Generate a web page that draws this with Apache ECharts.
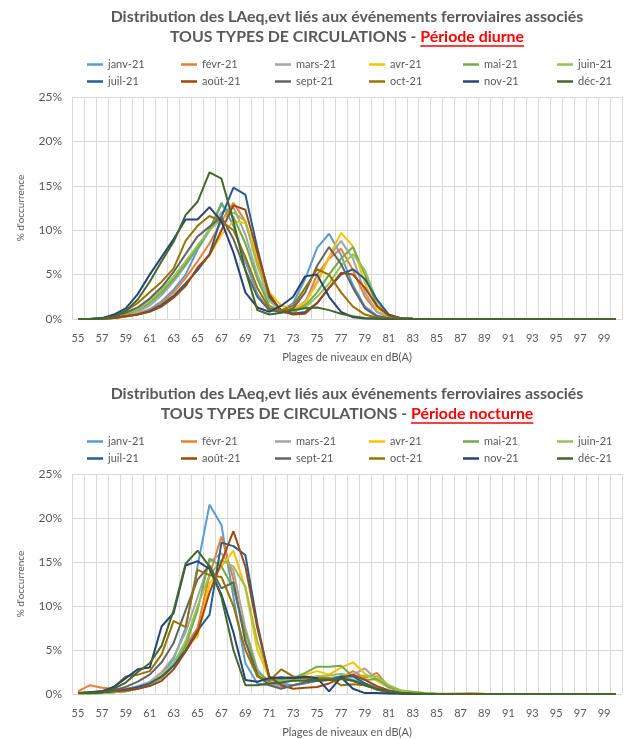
<!DOCTYPE html>
<html><head><meta charset="utf-8">
<script src="https://cdn.jsdelivr.net/npm/echarts@6/dist/echarts.min.js"></script>
<style>html,body{margin:0;padding:0;background:#fff}#c{width:625px;height:739px}</style>
</head><body><div id="c"></div>
<script>
// ---------- DATA ----------
const categories = ['55','56','57','58','59','60','61','62','63','64','65','66','67','68','69','70','71','72','73','74','75','76','77','78','79','80','81','82','83','84','85','86','87','88','89','90','91','92','93','94','95','96','97','98','99','100'];
const monthNames = ['janv-21','févr-21','mars-21','avr-21','mai-21','juin-21','juil-21','août-21','sept-21','oct-21','nov-21','déc-21'];
const titleLine1 = 'Distribution des LAeq,evt liés aux événements ferroviaires associés';
const titlePrefix = 'TOUS TYPES DE CIRCULATIONS - ';
const periodNames = ['Période diurne', 'Période nocturne'];
const xAxisName = 'Plages de niveaux en dB(A)';
const yAxisName = "% d'occurrence";

// Période diurne (% d'occurrence)
const dJanv = [0,0,0.02,0.1,0.3,0.6,1.1,2.0,3.3,5.0,7.8,10.0,13.1,10.5,6.5,2.8,1.0,0.9,1.8,4.5,8.0,9.6,7.2,3.8,1.4,0.4,0.1,0.04,0.02,0.01,0.01,0.01,0,0,0,0,0,0,0,0,0,0,0,0,0,0];
const dFevr = [0,0,0.02,0.1,0.3,0.6,1.0,1.8,3.0,4.6,6.5,8.5,11.0,13.1,11.0,6.5,2.5,0.8,0.6,1.8,5.0,6.8,7.9,5.5,2.5,0.8,0.2,0.05,0.02,0.01,0,0,0,0,0,0,0,0,0,0,0,0,0,0,0,0];
const dMars = [0,0,0.02,0.15,0.4,0.8,1.5,2.7,4.2,6.0,8.0,10.2,12.0,12.6,9.5,5.0,2.0,1.0,1.0,2.0,4.2,7.0,8.8,6.8,3.0,0.8,0.2,0.05,0.02,0.01,0,0,0,0,0,0,0,0,0,0,0,0,0,0,0,0];
const dAvr  = [0,0,0.02,0.1,0.25,0.5,0.9,1.6,2.6,4.0,5.5,7.2,9.5,11.0,10.8,7.0,3.0,1.5,1.2,1.8,4.0,7.0,9.7,8.2,4.0,1.2,0.3,0.06,0.02,0.01,0,0,0,0,0,0,0,0,0,0,0,0,0,0,0,0];
const dMai  = [0,0,0.05,0.2,0.5,1.0,1.8,3.0,4.5,6.2,8.0,10.0,12.9,11.5,8.5,4.5,1.5,0.9,0.8,1.5,3.0,5.0,6.8,8.1,5.0,1.5,0.3,0.06,0.02,0.01,0,0,0,0,0,0,0,0,0,0,0,0,0,0,0,0];
const dJuin = [0,0,0.05,0.25,0.6,1.1,2.0,3.3,4.8,6.5,8.3,10.0,11.3,12.0,11.0,6.0,2.2,1.0,0.9,1.3,2.5,4.0,6.0,7.3,5.5,2.0,0.4,0.08,0.03,0.01,0,0,0,0,0,0,0,0,0,0,0,0,0,0,0,0];
const dJuil = [0,0,0.02,0.1,0.3,0.5,0.9,1.6,2.6,4.0,5.5,7.3,11.5,14.8,14.0,8.0,2.5,1.0,0.6,0.8,1.8,3.5,5.0,5.6,4.5,2.2,0.5,0.1,0.03,0.01,0,0,0,0,0,0,0,0,0,0,0,0,0,0,0,0];
const dAout = [0,0,0.02,0.1,0.3,0.5,0.8,1.4,2.4,3.7,5.8,7.2,10.0,12.8,12.3,7.5,2.8,0.9,0.5,0.6,1.8,3.5,5.2,5.0,3.5,1.5,0.4,0.08,0.02,0.01,0,0,0,0,0,0,0,0,0,0,0,0,0,0,0,0];
const dSept = [0,0,0.05,0.25,0.7,1.3,2.3,3.6,5.3,7.3,9.3,10.4,11.5,9.0,5.5,2.5,1.0,0.8,1.2,3.0,6.0,8.1,6.2,3.5,1.2,0.3,0.08,0.02,0.01,0,0,0,0,0,0,0,0,0,0,0,0,0,0,0,0,0];
const dOct  = [0,0,0.05,0.3,0.9,1.8,3.0,4.2,5.7,8.8,10.5,11.6,11.0,10.0,7.0,3.5,1.2,1.0,1.5,3.5,5.6,5.0,3.0,1.4,0.5,0.15,0.05,0.02,0.01,0,0,0,0,0,0,0,0,0,0,0,0,0,0,0,0,0];
const dNov  = [0,0,0.1,0.5,1.2,2.8,5.0,7.0,9.0,11.2,11.2,12.6,11.0,7.5,3.0,1.3,0.8,1.5,2.5,4.8,5.0,2.5,0.8,0.2,0.05,0.02,0.01,0,0,0,0,0,0,0,0,0,0,0,0,0,0,0,0,0,0,0];
const dDec  = [0,0,0.05,0.3,0.9,2.2,4.2,6.5,8.7,11.7,13.2,16.5,15.8,11.0,5.5,1.0,0.5,0.7,1.0,1.2,1.3,1.0,0.6,0.3,0.12,0.05,0.02,0.01,0,0,0,0,0,0,0,0,0,0,0,0,0,0,0,0,0,0];

// Période nocturne (% d'occurrence)
const nJanv = [0.1,0.1,0.1,0.2,0.3,0.6,1.2,2.2,4.0,7.5,14.5,21.5,19.2,11.0,3.5,1.2,1.0,1.2,1.0,1.2,1.5,1.8,2.0,1.6,1.2,0.8,0.4,0.2,0.1,0.05,0,0,0,0,0,0,0,0,0,0,0,0,0,0,0,0];
const nFevr = [0.3,1.0,0.7,0.6,0.6,0.8,1.2,2.0,3.5,5.5,7.5,13.5,17.9,13.0,6.0,2.0,1.2,1.5,1.6,1.8,2.0,1.8,1.8,2.6,1.8,2.4,0.8,0.3,0.1,0.05,0.02,0.02,0.05,0.08,0.02,0,0,0,0,0,0,0,0,0,0,0];
const nMars = [0.1,0.1,0.15,0.3,0.5,0.9,1.4,2.5,4.2,7.0,11.0,15.0,16.0,14.0,7.5,2.8,1.2,0.8,1.0,1.3,1.6,1.8,2.0,2.2,2.9,1.6,0.7,0.3,0.1,0.05,0,0,0,0,0,0,0,0,0,0,0,0,0,0,0,0];
const nAvr  = [0.05,0.05,0.1,0.2,0.4,0.7,1.2,2.2,3.5,5.5,6.5,12.5,14.5,16.3,12.0,5.0,1.8,1.5,1.8,2.2,2.6,2.2,3.0,3.6,2.3,1.5,0.8,0.4,0.2,0.1,0,0,0,0,0,0,0,0,0,0,0,0,0,0,0,0];
const nMai  = [0.05,0.05,0.1,0.2,0.3,0.6,1.0,1.8,3.2,5.5,9.5,15.4,14.5,12.0,7.0,2.5,1.5,1.6,1.8,2.4,3.1,3.1,3.2,2.0,1.6,1.7,0.8,0.4,0.25,0.1,0.02,0.01,0,0,0,0,0,0,0,0,0,0,0,0,0,0];
const nJuin = [0.05,0.05,0.1,0.2,0.4,0.7,1.1,2.0,3.5,6.0,10.0,13.5,15.2,14.5,12.2,6.0,2.0,1.5,1.6,1.8,2.0,2.1,2.3,2.0,2.1,2.0,1.0,0.4,0.2,0.1,0.02,0.01,0,0,0,0,0,0,0,0,0,0,0,0,0,0];
const nJuil = [0.1,0.1,0.2,0.3,0.5,0.8,1.2,2.0,3.2,5.0,7.2,9.0,17.2,16.8,15.8,8.0,1.8,1.8,1.9,1.8,1.5,1.6,2.0,2.0,1.2,0.5,0.2,0.08,0.03,0.01,0,0,0,0,0,0,0,0,0,0,0,0,0,0,0,0];
const nAout = [0.1,0.1,0.2,0.3,0.4,0.6,0.9,1.5,2.8,4.8,7.0,11.5,15.0,18.5,14.5,7.5,2.0,1.0,0.6,0.7,0.8,1.2,1.8,2.2,1.6,0.9,0.4,0.15,0.05,0.02,0,0,0,0,0,0,0,0,0,0,0,0,0,0,0,0];
const nSept = [0.1,0.1,0.2,0.4,0.8,1.4,2.2,3.6,5.8,9.5,13.0,14.6,12.0,12.7,6.0,2.2,1.0,0.6,1.0,1.3,1.5,1.6,1.8,1.5,1.0,0.5,0.2,0.08,0.03,0.01,0,0,0,0,0,0,0,0,0,0,0,0,0,0,0,0];
const nOct  = [0.1,0.2,0.3,0.8,2.0,2.2,2.6,4.5,8.3,7.6,14.1,13.5,13.3,10.0,5.0,2.0,1.5,2.8,2.0,1.8,1.8,1.8,1.0,1.1,1.0,0.6,0.3,0.1,0.05,0.02,0,0,0,0,0,0,0,0,0,0,0,0,0,0,0,0];
const nNov  = [0.1,0.2,0.3,0.8,1.8,2.8,3.0,7.7,9.2,14.6,15.1,14.2,11.3,7.0,1.6,1.4,1.8,1.9,1.8,2.0,1.8,0.3,1.9,0.6,0.1,0.1,0.05,0.02,0.01,0,0,0,0,0,0,0,0,0,0,0,0,0,0,0,0,0];
const nDec  = [0.1,0.1,0.2,0.6,1.3,2.5,3.5,5.5,9.5,14.8,16.3,14.5,11.0,5.0,1.0,1.0,1.2,1.3,1.5,1.5,1.6,1.6,1.7,1.5,1.0,0.6,0.3,0.1,0.05,0.02,0,0,0,0,0,0,0,0,0,0,0,0,0,0,0,0];

const diurneData = [dJanv,dFevr,dMars,dAvr,dMai,dJuin,dJuil,dAout,dSept,dOct,dNov,dDec];
const nocturneData = [nJanv,nFevr,nMars,nAvr,nMai,nJuin,nJuil,nAout,nSept,nOct,nNov,nDec];
const yTicks = [0,5,10,15,20,25];

// ---------- STYLE ----------
const monthColors = ['#5B9BD5','#ED7D31','#A5A5A5','#FFC000','#70AD47','#92C353','#255E91','#9E480E','#636363','#997300','#264478','#43682B'];
const FONT = 'Lato, "Open Sans", sans-serif';
const GREY = '#595959';
const GRID = '#D9D9D9';

const ctx = document.createElement('canvas').getContext('2d');
function textW(t, size){ ctx.font = 'bold ' + size + 'px ' + FONT; return ctx.measureText(t).width; }
const titleSize = Math.max(12, Math.min(17, 15 * 473 / textW(titleLine1, 15)));
const cx = 347;
const offsets = [0, 377];

const titles = [], graphics = [], legends = [], grids = [], xAxes = [], yAxes = [], series = [];
[diurneData, nocturneData].forEach((dataSet, k) => {
  const dy = offsets[k];
  const w1 = textW(titleLine1, titleSize);
  const wp = textW(titlePrefix, titleSize);
  const wr = textW(periodNames[k], titleSize);
  const w2 = wp + wr;
  titles.push({
    text: titleLine1, left: cx - w1 / 2, top: 17 + dy - 10, padding: 0,
    textStyle: { fontFamily: FONT, fontSize: titleSize, fontWeight: 'bold', color: GREY, lineHeight: 20 }
  });
  titles.push({
    text: '{a|' + titlePrefix + '}{b|' + periodNames[k] + '}', left: cx - w2 / 2, top: 37 + dy - 10, padding: 0,
    textStyle: { lineHeight: 20, rich: {
      a: { fontFamily: FONT, fontSize: titleSize, fontWeight: 'bold', color: GREY, lineHeight: 20 },
      b: { fontFamily: FONT, fontSize: titleSize, fontWeight: 'bold', color: '#FF0000', lineHeight: 20 }
    } }
  });
  const uy = 37 + dy + titleSize * 0.5 + 1;
  graphics.push({ type: 'line', shape: { x1: cx - w2 / 2 + wp, y1: uy, x2: cx + w2 / 2, y2: uy },
    style: { stroke: '#FF0000', lineWidth: 1.5 }, silent: true });
  legends.push({
    data: monthNames, left: 82, top: 51 + dy, width: 575, itemGap: 0,
    icon: 'rect', itemWidth: 16, itemHeight: 2.5,
    textStyle: { fontFamily: FONT, fontSize: 11, color: GREY, width: 73, lineHeight: 17 }
  });
  grids.push({ left: 72, top: 97 + dy, width: 550, height: 222, containLabel: false });
  xAxes.push({
    type: 'category', gridIndex: k, data: categories, boundaryGap: true,
    axisLine: { lineStyle: { color: GRID, width: 1 } },
    axisTick: { show: false },
    axisLabel: { interval: 1, color: GREY, fontFamily: FONT, fontSize: 11, margin: 14 },
    splitLine: { show: true, interval: 0, lineStyle: { color: GRID, width: 1 } },
    name: xAxisName, nameLocation: 'middle', nameGap: 33,
    nameTextStyle: { color: GREY, fontFamily: FONT, fontSize: 11 }
  });
  yAxes.push({
    type: 'value', gridIndex: k, min: yTicks[0], max: yTicks[yTicks.length - 1], interval: yTicks[1] - yTicks[0],
    axisLine: { show: false }, axisTick: { show: false },
    axisLabel: { formatter: '{value}%', color: GREY, fontFamily: FONT, fontSize: 12, margin: 10 },
    splitLine: { show: true, lineStyle: { color: GRID, width: 1 } },
    name: yAxisName, nameLocation: 'middle', nameGap: 46, nameRotate: 90,
    nameTextStyle: { color: GREY, fontFamily: FONT, fontSize: 10 }
  });
  dataSet.forEach((arr, i) => {
    series.push({
      type: 'line', name: monthNames[i], xAxisIndex: k, yAxisIndex: k, data: arr,
      symbol: 'none', showSymbol: false, smooth: false,
      lineStyle: { width: 2, color: monthColors[i] }, itemStyle: { color: monthColors[i] },
      emphasis: { disabled: true }
    });
  });
});

const chart = echarts.init(document.getElementById('c'), null, { renderer: 'canvas' });
chart.setOption({
  animation: false,
  backgroundColor: '#fff',
  title: titles,
  legend: legends,
  grid: grids,
  xAxis: xAxes,
  yAxis: yAxes,
  graphic: graphics,
  series: series
});
</script>
</body></html>
